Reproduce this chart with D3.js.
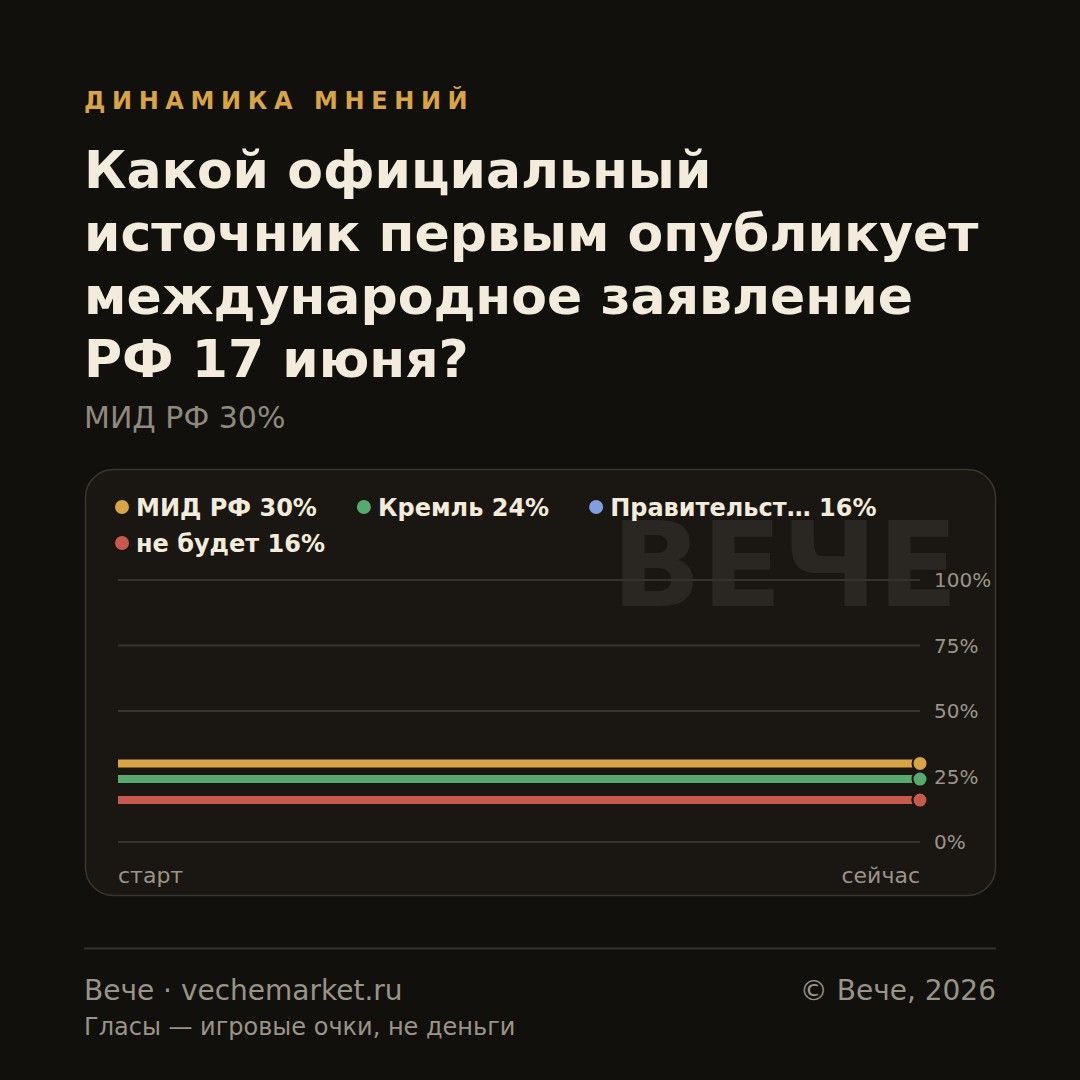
<!DOCTYPE html>
<html lang="ru">
<head>
<meta charset="UTF-8">
<title>Динамика мнений</title>
<script src="https://d3js.org/d3.v7.min.js"></script>
<style>
  html, body { margin: 0; padding: 0; background: #12100d; }
  svg { display: block; font-family: "DejaVu Sans", sans-serif; }
</style>
</head>
<body>
<svg width="1080" height="1080"></svg>
<script>
// data
const kicker = "ДИНАМИКА МНЕНИЙ";
const titleLines = ["Какой официальный", "источник первым опубликует", "международное заявление", "РФ 17 июня?"];
const subtitle = "МИД РФ 30%";
const timeLabels = ["старт", "сейчас"];
const seriesNames = ["МИД РФ", "Кремль", "Правительст…", "не будет"];
const seriesColors = ["#d9a443", "#58a96f", "#7f9fe0", "#c65a4e"];
const seriesValues = [[30, 30], [24, 24], [16, 16], [16, 16]];
const yTicks = [0, 25, 50, 75, 100];

const svg = d3.select("svg");
const W = 1080;

svg.append("rect").attr("width", W).attr("height", 1080).attr("fill", "#12100d");

// header
svg.append("text").attr("x", 84).attr("y", 109)
  .attr("fill", "#d9a443").attr("font-size", 24).attr("font-weight", "bold")
  .attr("letter-spacing", 6.6).text(kicker);

svg.append("g").selectAll("text").data(titleLines).join("text")
  .attr("x", 84).attr("y", (d, i) => 188 + i * 63)
  .attr("fill", "#f3ecdc").attr("font-size", 52).attr("font-weight", "bold")
  .text(d => d);

svg.append("text").attr("x", 84).attr("y", 428)
  .attr("fill", "#8f897e").attr("font-size", 30).text(subtitle);

// card
svg.append("rect").attr("x", 85.5).attr("y", 469.5).attr("width", 910).attr("height", 426)
  .attr("rx", 28).attr("fill", "#1a1713").attr("stroke", "#3a352d").attr("stroke-width", 1.5);

// watermark
svg.append("text").attr("x", 958).attr("y", 606).attr("text-anchor", "end")
  .attr("fill", "#2a2722").attr("font-size", 118).attr("font-weight", "bold")
  .text("ВЕЧЕ");

// legend
const legend = svg.append("g");
let lx = 122, ly = 507;
seriesNames.forEach((name, i) => {
  const label = name + " " + seriesValues[i][seriesValues[i].length - 1] + "%";
  const g = legend.append("g");
  const t = g.append("text").attr("x", 14).attr("y", 8.5)
    .attr("fill", "#f3ecdc").attr("font-size", 24).attr("font-weight", "bold").text(label);
  const tw = t.node().getComputedTextLength();
  if (lx + 14 + tw > 960) { lx = 122; ly += 36; }
  g.attr("transform", `translate(${lx},${ly})`);
  g.append("circle").attr("r", 7).attr("fill", seriesColors[i]);
  lx += 14 + tw + 47;
});

// scales
const x = d3.scalePoint().domain(timeLabels).range([118, 920]);
const y = d3.scaleLinear().domain([0, 100]).range([842, 580]);

const grid = svg.append("g");
grid.selectAll("line").data(yTicks).join("line")
  .attr("x1", 118).attr("x2", 920)
  .attr("y1", d => y(d)).attr("y2", d => y(d))
  .attr("stroke", "#37322b").attr("stroke-width", 2);
grid.selectAll("text").data(yTicks).join("text")
  .attr("x", 934).attr("y", d => y(d) + 7)
  .attr("fill", "#9a9488").attr("font-size", 20).text(d => d + "%");

// x labels
svg.append("text").attr("x", x(timeLabels[0])).attr("y", 883)
  .attr("fill", "#9a9488").attr("font-size", 22).text(timeLabels[0]);
svg.append("text").attr("x", x(timeLabels[1])).attr("y", 883).attr("text-anchor", "end")
  .attr("fill", "#9a9488").attr("font-size", 22).text(timeLabels[1]);

// lines
const line = d3.line().x((d, i) => x(timeLabels[i])).y(d => y(d));
const lines = svg.append("g");
seriesValues.forEach((vals, i) => {
  lines.append("path").attr("d", line(vals)).attr("fill", "none")
    .attr("stroke", seriesColors[i]).attr("stroke-width", 8);
});
seriesValues.forEach((vals, i) => {
  const last = vals.length - 1;
  lines.append("circle").attr("cx", x(timeLabels[last])).attr("cy", y(vals[last]))
    .attr("r", 7.5).attr("fill", seriesColors[i]).attr("stroke", "#1a1713").attr("stroke-width", 2);
});

// footer
svg.append("line").attr("x1", 84).attr("x2", 996).attr("y1", 948.5).attr("y2", 948.5)
  .attr("stroke", "#36312a").attr("stroke-width", 2);
svg.append("text").attr("x", 84).attr("y", 1000)
  .attr("fill", "#9a9488").attr("font-size", 28).text("Вече · vechemarket.ru");
svg.append("text").attr("x", 996).attr("y", 1000).attr("text-anchor", "end")
  .attr("fill", "#9a9488").attr("font-size", 28).text("© Вече, 2026");
svg.append("text").attr("x", 84).attr("y", 1035)
  .attr("fill", "#9a9488").attr("font-size", 24).text("Гласы — игровые очки, не деньги");
</script>
</body>
</html>
